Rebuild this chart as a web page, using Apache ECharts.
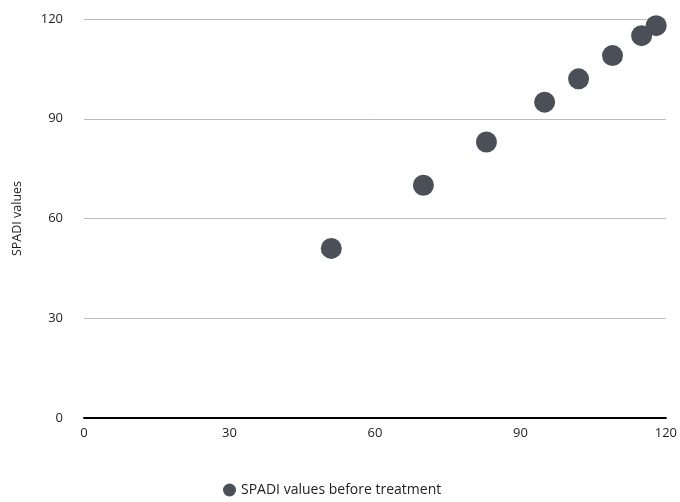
<!DOCTYPE html>
<html><head><meta charset="utf-8">
<script src="https://cdn.jsdelivr.net/npm/echarts@6/dist/echarts.min.js"></script>
<style>html,body{margin:0;padding:0;background:#fff}#c{width:680px;height:502px}</style>
</head><body><div id="c"></div>
<script>
const seriesName = 'SPADI values before treatment';
const xValues = [51, 70, 83, 95, 102, 109, 115, 118];
const yValues = [51, 70, 83, 95, 102, 109, 115, 118];
const axisMin = 0, axisMax = 120, axisStep = 30;

const chart = echarts.init(document.getElementById('c'));
const font = '"Open Sans", "Noto Sans", sans-serif';
chart.setOption({
  animation: false,
  textStyle: { fontFamily: font },
  grid: { left: 84, right: 13, top: 19, bottom: 84 },
  legend: {
    bottom: 0, left: 218,
    itemWidth: 13, itemHeight: 13, itemGap: 10,
    textStyle: { fontSize: 14, color: '#222', fontFamily: font },
    data: [{ name: seriesName, icon: 'circle' }]
  },
  xAxis: {
    type: 'value', min: axisMin, max: axisMax, interval: axisStep,
    axisLine: { show: true, onZero: false, lineStyle: { color: '#000', width: 2 } },
    axisTick: { show: false },
    splitLine: { show: false },
    axisLabel: { color: '#222', fontSize: 13, margin: 9, fontFamily: font }
  },
  yAxis: {
    type: 'value', min: axisMin, max: axisMax, interval: axisStep,
    name: 'SPADI values', nameLocation: 'middle', nameGap: 60,
    nameTextStyle: { color: '#222', fontSize: 12.5, fontFamily: font },
    axisLine: { show: false }, axisTick: { show: false },
    splitLine: { lineStyle: { color: '#bbb', width: 1 } },
    axisLabel: { color: '#222', fontSize: 13, margin: 21, fontFamily: font }
  },
  series: [{
    name: seriesName, type: 'scatter', symbolSize: 21,
    itemStyle: { color: '#4b4f57', opacity: 1 },
    data: xValues.map((x, i) => [x, yValues[i]])
  }]
});
</script></body></html>
